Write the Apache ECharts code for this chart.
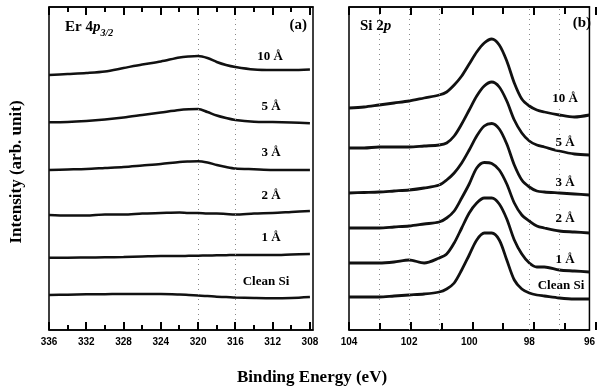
<!DOCTYPE html>
<html><head><meta charset="utf-8">
<script src="https://cdn.jsdelivr.net/npm/echarts@6/dist/echarts.min.js"></script>
<style>html,body{margin:0;padding:0;background:#fff}#c{width:598px;height:391px}</style>
</head><body><div id="c"></div>
<script>
// ---- Panel (a): Er 4p3/2 ----
const energyA = [336,334,332,330,328,326,324,322,321,320,319,318,317,316,314,312,310,308];
const erA10 = [255,256,257,258.5,262,265.5,268.5,272.5,273.5,274,272,268,265,263,260.5,260,260,260.5];
const erA5  = [207.7,208,209,210.5,212.5,215,217.5,220,220.7,221,218,214.5,212,210,208.3,208,207.5,206.7];
const erA3  = [160,160.5,161,162,163,164.5,166,168,168.5,168.8,167.5,165,163,161.5,160.7,160,160,160];
const erA2  = [115,114.5,114.5,115.5,115.5,116.5,117,117.5,117,117,116.5,116.5,116,115.5,116.5,117,118,119];
const erA1  = [72.3,72.3,72.5,72.7,73,73.5,74,74,74.2,74.3,74.5,74.7,74.8,75,75,75,75.5,76];
const erA0  = [35,35.3,35.7,35.8,36,36,36,35.5,35,34.5,34,33.3,33,32.5,32,31.7,32,33];
const ticksA = [336,334,332,330,328,326,324,322,320,318,316,314,312,310,308];
const labelsA = [336,332,328,324,320,316,312,308];
const gridA = [320,316];

// ---- Panel (b): Si 2p ----
const energyB = [104,103.5,103,102.5,102,101.5,101,100.75,100.5,100.25,100,99.75,99.5,99.25,99,98.75,98.5,98.25,98,97.75,97.5,97,96.5,96];
const siB10 = [222,223,225,227,229,232,235,238,245,254,266,278,287,291,285,269,247,231,224,220,218,215,213,215];
const siB5  = [182,182,183,183,183,184,185,187,194,206,220,234,244,248,243,229,210,197,189,185,183,179,176,175];
const siB3  = [137,137.5,138,139,140,142,145,150,157,167,180,194,204,206.5,201,186,165,150,143,139,138,137,136,135];
const siB2  = [102,102,102,103,104,106,108,112,119,132,146,162,167.5,166.5,160,146,127,115,109,104,102,99,98,97];
const siB1  = [67,67,67,68,70,67,72,76,87,102,117,127,132,132,126,111,90,76,67,63,63,60,59,58];
const siB0  = [33,33,33,34,35,36,38,41,47,60,75,90,97,97,90,70,50,41,37,35,34,32,31,31];
const ticksB = [104,103,102,101,100,99,98,97,96];
const labelsB = [104,102,100,98,96];
const gridB = [103,102,101,98,97];

const curveLabels = ['10 Å','5 Å','3 Å','2 Å','1 Å','Clean Si'];

const zip = (xs, ys) => xs.map((x,i)=>[x, ys[i]]);
const serif = '"Liberation Serif","Times New Roman",serif';
const sans = '"Liberation Sans",Arial,sans-serif';

const chart = echarts.init(document.getElementById('c'));

const boxA = {left:49, top:7, width:264, height:323};
const boxB = {left:349, top:7, width:247, height:323};
const axA = {min:307.67, max:336};
const axB = {min:96, max:104};

function xAxisA(pos, labels){
  return {type:'value', gridIndex:0, position:pos, inverse:true, min:axA.min, max:axA.max,
    axisLine:{show:true, lineStyle:{color:'#000', width:1.5}}, splitLine:{show:false},
    axisTick:{show:false},
    axisLabel:{show:labels, customValues:labelsA, color:'#000', fontFamily:sans, fontWeight:'bold', fontSize:10, margin:7}};
}
function xAxisB(pos, labels){
  return {type:'value', gridIndex:1, position:pos, inverse:true, min:axB.min, max:axB.max, interval:1,
    axisLine:{show:true, lineStyle:{color:'#000', width:1.5}}, splitLine:{show:false},
    axisTick:{show:false},
    axisLabel:{show:labels, customValues:labelsB, color:'#000', fontFamily:sans, fontWeight:'bold', fontSize:10, margin:7}};
}

function lineSeries(xi, yi, xs, ys, w){
  return {type:'line', xAxisIndex:xi, yAxisIndex:yi, data:zip(xs, ys), showSymbol:false, smooth:0.3,
    lineStyle:{color:'#111', width:w}, silent:true};
}

const seriesA = [erA10, erA5, erA3, erA2, erA1, erA0].map(d => lineSeries(0, 0, energyA, d, 2.5));
const seriesB = [siB10, siB5, siB3, siB2, siB1, siB0].map(d => lineSeries(2, 1, energyB, d, 2.8));
seriesA[0].markLine = {silent:true, symbol:'none', label:{show:false},
  lineStyle:{type:[1,4], color:'#888', width:1}, data: gridA.map(v=>({xAxis:v}))};
seriesB[0].markLine = {silent:true, symbol:'none', label:{show:false},
  lineStyle:{type:[1,4], color:'#888', width:1}, data: gridB.map(v=>({xAxis:v}))};

const labelStyle = {font:'bold 13px ' + serif, fill:'#000', align:'center', verticalAlign:'middle'};
const labPosA = [[270,57],[271,107],[271,153],[271,196],[271,238],[266,282]];
const labPosB = [[565,99],[565,143],[565,183],[565,219],[565,260],[561,286]];
const graphics = [];
curveLabels.forEach((t,i)=>{
  graphics.push({type:'text', x:labPosA[i][0], y:labPosA[i][1], style:Object.assign({text:t}, labelStyle), z:10});
  graphics.push({type:'text', x:labPosB[i][0], y:labPosB[i][1], style:Object.assign({text:t, backgroundColor:'#fff'}, labelStyle), z:10});
});
graphics.push({type:'text', x:65, y:27, z:10, style:{
  text:'{a|Er 4}{i|p}{s|3/2}', verticalAlign:'middle', align:'left',
  rich:{
    a:{font:'bold 15px ' + serif, fill:'#000', lineHeight:22, verticalAlign:'middle'},
    i:{font:'italic bold 15px ' + serif, fill:'#000', lineHeight:22, verticalAlign:'middle'},
    s:{font:'italic bold 10px ' + serif, fill:'#000', lineHeight:22, verticalAlign:'bottom'}
  }}});
graphics.push({type:'text', x:307, y:25, z:10, style:{text:'(a)', font:'bold 15px ' + serif, fill:'#000', align:'right', verticalAlign:'middle'}});
graphics.push({type:'text', x:360, y:26, z:10, style:{
  text:'{a|Si 2}{i|p}', verticalAlign:'middle', align:'left',
  rich:{a:{font:'bold 15px ' + serif, fill:'#000'}, i:{font:'italic bold 15px ' + serif, fill:'#000'}}}});
graphics.push({type:'text', x:591, y:23, z:10, style:{text:'(b)', font:'bold 15px ' + serif, fill:'#000', align:'right', verticalAlign:'middle'}});
graphics.push({type:'text', x:17, y:172, rotation:Math.PI/2, z:10, style:{text:'Intensity (arb. unit)', font:'bold 17px ' + serif, fill:'#000', align:'center', verticalAlign:'middle'}});
graphics.push({type:'text', x:312, y:378, z:10, style:{text:'Binding Energy (eV)', font:'bold 17px ' + serif, fill:'#000', align:'center', verticalAlign:'middle'}});

// Inward tick marks drawn as thin filled rectangles on top and bottom frame edges
function addTicks(box, ax, vals, lenFn){
  const yBot = box.top + box.height, yTop = box.top;
  vals.forEach(v => {
    const x = Math.round(box.left + (ax.max - v) / (ax.max - ax.min) * box.width);
    const L = lenFn(v);
    graphics.push({type:'rect', z:30, silent:true, shape:{x:x - 1, y:yBot - L, width:2, height:L}, style:{fill:'#000'}});
    graphics.push({type:'rect', z:30, silent:true, shape:{x:x - 1, y:yTop, width:2, height:L}, style:{fill:'#000'}});
  });
}
addTicks(boxA, axA, ticksA, v => (v % 4 === 0 ? 8 : 5));
addTicks(boxB, axB, ticksB, v => (v % 2 === 0 ? 8 : 7));

chart.setOption({
  animation:false,
  grid:[
    Object.assign({show:true, borderColor:'#000', borderWidth:1.5}, boxA),
    Object.assign({show:true, borderColor:'#000', borderWidth:1.5}, boxB)
  ],
  xAxis:[
    xAxisA('bottom', true),
    xAxisA('top', false),
    xAxisB('bottom', true),
    xAxisB('top', false)
  ],
  yAxis:[
    {type:'value', gridIndex:0, min:0, max:323, show:false},
    {type:'value', gridIndex:1, min:0, max:323, show:false}
  ],
  series: seriesA.concat(seriesB),
  graphic: graphics
});
</script></body></html>
